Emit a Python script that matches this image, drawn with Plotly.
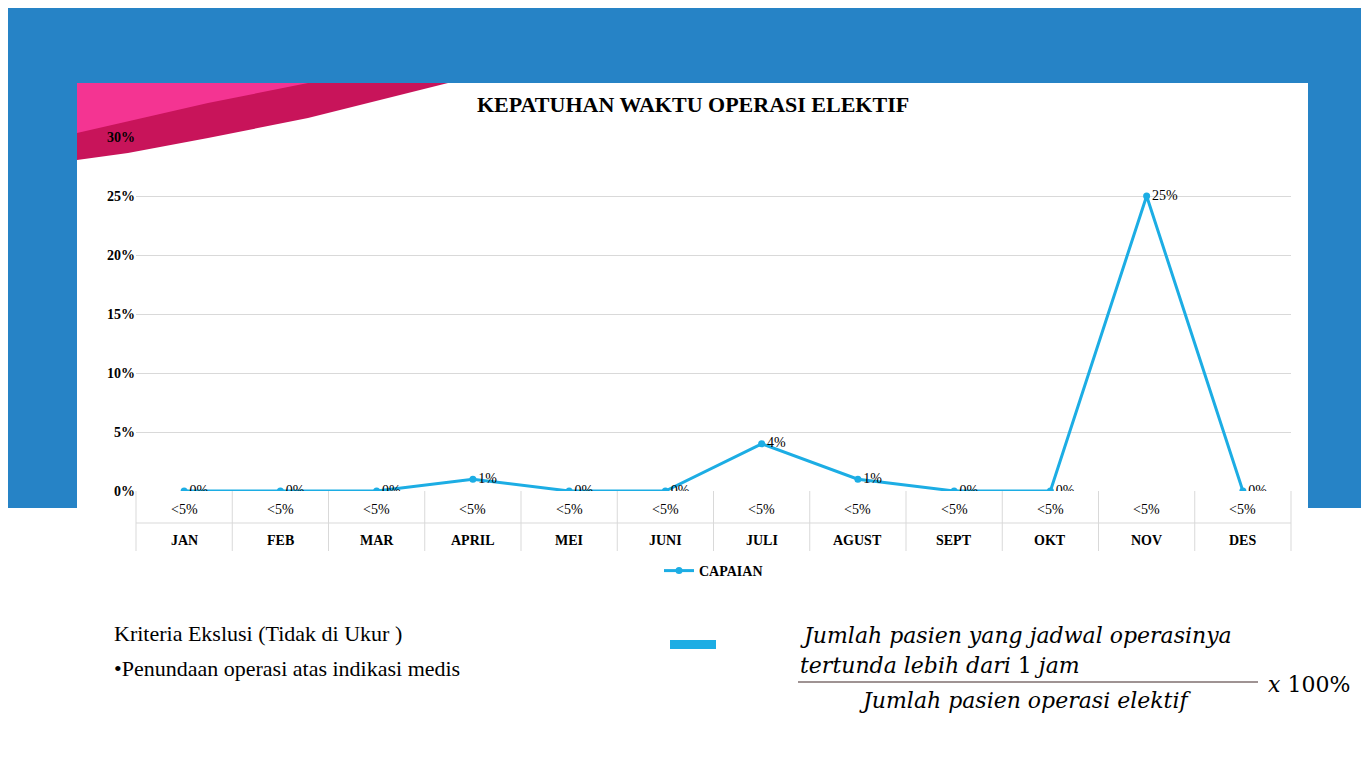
import plotly.graph_objects as go

months = ["JAN","FEB","MAR","APRIL","MEI","JUNI","JULI","AGUST","SEPT","OKT","NOV","DES"]
capaian = [0,0,0,1,0,0,4,1,0,0,25,0]
target_labels = ["<5%"]*12
yticks = [0,5,10,15,20,25,30]

W,H = 1369,761
L,R,T,B = 128,1283,129,483
def px(x): return (x-L)/(R-L)
def py(y): return (B-y)/(B-T)

fig = go.Figure()
fig.add_trace(go.Scatter(x=list(range(12)), y=capaian, mode="lines+markers+text",
    name="CAPAIAN", line=dict(color="#1cade4", width=3), marker=dict(size=7, color="#1cade4"),
    text=[f"{v}%" for v in capaian], textposition="middle right",
    textfont=dict(family="Liberation Serif", size=14, color="black")))

shapes = []
# background blue
shapes.append(dict(type="rect", xref="paper", yref="paper", x0=px(0), x1=px(W), y0=py(500), y1=py(0),
                   fillcolor="#2683c6", line_width=0, layer="below"))
shapes.append(dict(type="rect", xref="paper", yref="paper", x0=px(69), x1=px(1300), y0=py(761), y1=py(75),
                   fillcolor="white", line_width=0, layer="below"))
# pink swoosh
pts = [(69,75),(440,75),(380,90),(300,110),(200,130),(120,145),(69,152)]
path = "M " + " L ".join(f"{px(a)},{py(b)}" for a,b in pts) + " Z"
shapes.append(dict(type="path", xref="paper", yref="paper", path=path, fillcolor="#c8145a", line_width=0, layer="below"))
pts2 = [(69,75),(300,75),(200,95),(69,125)]
path2 = "M " + " L ".join(f"{px(a)},{py(b)}" for a,b in pts2) + " Z"
shapes.append(dict(type="path", xref="paper", yref="paper", path=path2, fillcolor="#ff3ca0", line_width=0, layer="below", opacity=0.8))
# category boxes
for i in range(13):
    x = L + i*(R-L)/12
    shapes.append(dict(type="line", xref="paper", yref="paper", x0=px(x), x1=px(x), y0=py(483), y1=py(543),
                       line=dict(color="#d9d9d9", width=1)))
shapes.append(dict(type="line", xref="paper", yref="paper", x0=px(L), x1=px(R), y0=py(515), y1=py(515),
                   line=dict(color="#d9d9d9", width=1)))
# blue small rect
shapes.append(dict(type="rect", xref="paper", yref="paper", x0=px(662), x1=px(708), y0=py(641), y1=py(632),
                   fillcolor="#1cade4", line_width=0))
# fraction line
shapes.append(dict(type="line", xref="paper", yref="paper", x0=px(790), x1=px(1250), y0=py(674), y1=py(674),
                   line=dict(color="#7f6f6f", width=1.5)))

ann = []
def A(text, x, y, size=14, xanchor="center", font="Liberation Serif", color="black"):
    ann.append(dict(text=text, x=px(x), y=py(y), xref="paper", yref="paper", showarrow=False,
                    xanchor=xanchor, yanchor="middle", font=dict(family=font, size=size, color=color)))
for i,(m,t) in enumerate(zip(months,target_labels)):
    cx = L + (i+0.5)*(R-L)/12
    A(t, cx, 501, 14)
    A(f"<b>{m}</b>", cx, 532, 14)
A("<b>KEPATUHAN WAKTU OPERASI ELEKTIF</b>", 685, 97, 22)
A("Kriteria Ekslusi (Tidak di Ukur )", 104, 625, 22, "left")
A("•Penundaan operasi atas indikasi medis", 104, 660, 22, "left")
A("<i>Jumlah pasien yang jadwal operasinya</i>", 790, 627, 22, "left", "DejaVu Serif")
A("<i>tertunda lebih dari</i> 1 <i>jam</i>", 790, 657, 22, "left", "DejaVu Serif")
A("<i>Jumlah pasien operasi elektif</i>", 1017, 692, 22, "center", "DejaVu Serif")
A("<i>x</i> 100%", 1258, 676, 22, "left", "DejaVu Serif")

fig.update_layout(width=W, height=H, margin=dict(l=L, r=W-R, t=T, b=H-B),
    paper_bgcolor="white", plot_bgcolor="rgba(0,0,0,0)", shapes=shapes, annotations=ann,
    showlegend=True,
    legend=dict(orientation="h", x=0.5, xanchor="center", y=py(563), yanchor="middle",
                font=dict(family="Liberation Serif", size=14, color="black"), bgcolor="rgba(0,0,0,0)"),
    xaxis=dict(range=[-0.5,11.5], showticklabels=False, showgrid=False, zeroline=False, fixedrange=True),
    yaxis=dict(range=[0,30], tickvals=yticks, ticktext=[f"<b>{v}%</b>" for v in yticks],
               gridcolor="#d9d9d9", zeroline=False, showline=False,
               tickfont=dict(family="Liberation Serif", size=14, color="black")))
fig.update_traces(legendgroup="a")
fig.for_each_trace(lambda t: t.update(name="<b>CAPAIAN</b>"))
fig.write_html("out.html")
